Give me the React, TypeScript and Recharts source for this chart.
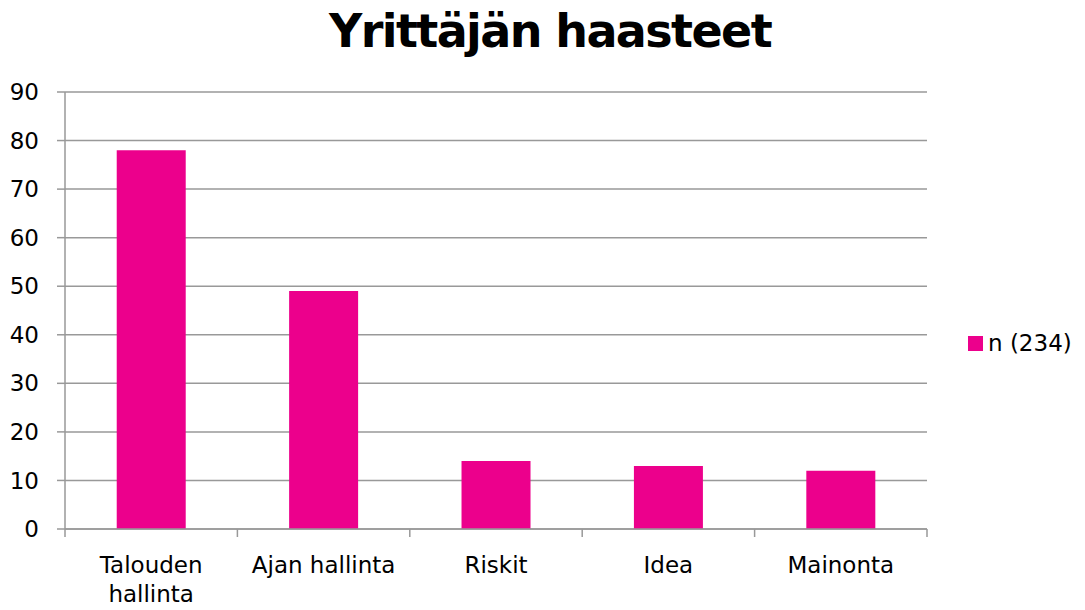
import React from 'react';
import { BarChart, Bar, XAxis, YAxis, CartesianGrid, Legend } from 'recharts';

const categories = ['Talouden hallinta', 'Ajan hallinta', 'Riskit', 'Idea', 'Mainonta'];
const values = [78, 49, 14, 13, 12];
const yTicks = [0, 10, 20, 30, 40, 50, 60, 70, 80, 90];
const seriesName = 'n (234)';
const title = 'Yrittäjän haasteet';

const data = categories.map((c, i) => ({ name: c, value: values[i] }));

const FONT = '"DejaVu Sans", Verdana, sans-serif';
const PINK = '#EC008C';
const GRID = '#999999';

const wrapLabel = (s: string): string[] => {
  if (s === 'Talouden hallinta') return ['Talouden', 'hallinta'];
  return [s];
};

const XTick = (props: any) => {
  const { x, y, payload, index, visibleTicksCount } = props;
  const half = payload && typeof payload.offset === 'number' ? payload.offset : 86.2;
  const lines = wrapLabel(String(payload.value));
  const last = index === (visibleTicksCount ?? categories.length) - 1;
  return (
    <g>
      <line x1={x - half} y1={y} x2={x - half} y2={y + 8} stroke={GRID} strokeWidth={1.5} />
      {last && <line x1={x + half} y1={y} x2={x + half} y2={y + 8} stroke={GRID} strokeWidth={1.5} />}
      <text x={x} y={y + 44} textAnchor="middle" fontFamily={FONT} fontSize={23} fill="#000">
        {lines.map((l, i) => (
          <tspan key={i} x={x} dy={i === 0 ? 0 : 29}>{l}</tspan>
        ))}
      </text>
    </g>
  );
};

const LegendContent = () => (
  <div style={{ display: 'flex', alignItems: 'center', fontFamily: FONT, fontSize: 23, color: '#000', whiteSpace: 'nowrap' }}>
    <span style={{ display: 'inline-block', width: 15, height: 15, background: PINK, marginRight: 5 }} />
    <span>{seriesName}</span>
  </div>
);

export default function App() {
  return (
    <div style={{ position: 'absolute', left: 0, top: 0, width: 1085, height: 610, background: '#fff' }}>
      <div style={{ position: 'absolute', left: 0, top: 1, width: 1100, textAlign: 'center', fontFamily: FONT, fontWeight: 'bold', fontSize: 46, letterSpacing: -1.6, color: '#000', lineHeight: '60px' }}>
        {title}
      </div>
      <BarChart width={1085} height={610} data={data} margin={{ top: 92, right: 158, bottom: 0, left: 0 }} barCategoryGap="30%">
        <CartesianGrid vertical={false} stroke={GRID} strokeWidth={1.5} />
        <XAxis dataKey="name" height={81} axisLine={{ stroke: GRID, strokeWidth: 1.5 }} tickLine={false} tickSize={0} tickMargin={0} tick={<XTick />} interval={0} />
        <YAxis width={65} domain={[0, 90]} ticks={yTicks} interval={0} axisLine={{ stroke: GRID, strokeWidth: 1.5 }} tickLine={{ stroke: GRID, strokeWidth: 1.5 }} tickSize={8} tickMargin={18} tick={{ fontFamily: FONT, fontSize: 23, fill: '#000' }} />
        <Legend layout="vertical" align="center" verticalAlign="middle" wrapperStyle={{ left: 968, top: 330, width: 'auto' }} content={<LegendContent />} />
        <Bar dataKey="value" name={seriesName} fill={PINK} isAnimationActive={false} />
      </BarChart>
    </div>
  );
}
